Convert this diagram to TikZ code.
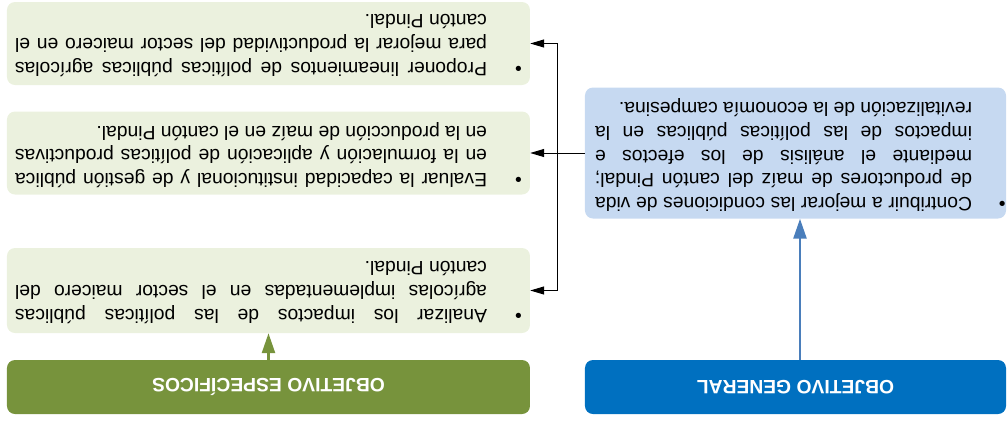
\documentclass[tikz,border=0pt]{standalone}
\usepackage{fontspec}
\setmainfont{Liberation Sans}
\usetikzlibrary{arrows.meta}
\definecolor{lgreen}{HTML}{EBF1DE}
\definecolor{dgreen}{HTML}{77933C}
\definecolor{dblue}{HTML}{0070C0}
\definecolor{lblue}{HTML}{C6D9F1}
\definecolor{ablue}{HTML}{4A7EBB}
% #1 box width, #2 text indent, #3 right margin, #4 bullet offset, #5 text
\newcommand{\bultext}[5]{\parbox{#1}{\tolerance=10000\hbadness=10000\leftskip=#2\relax\rightskip=#3\relax\parfillskip=0pt plus 1fil\relax\noindent\llap{\makebox[#2][l]{\hspace*{#4}\textbullet}}#5\par\vspace*{4pt}}}
\tikzset{
  txtbox/.style={rounded corners=8pt, inner sep=0pt,
    font=\fontsize{19.3}{23.7}\selectfont},
  titlebox/.style={rounded corners=8pt, inner sep=0pt, minimum width=#1, minimum height=54pt,
    text=white, font=\bfseries\fontsize{19.3}{23.5}\selectfont},
  blk/.style={draw=black, line width=1pt, -{Triangle[length=14pt,width=8pt]}},
}
\begin{document}
\begin{tikzpicture}[x=1pt, y=1pt, rotate=180, transform shape]
\useasboundingbox (0,0) rectangle (1008,421);
% general objective (upright left column)
\node[titlebox=421pt, fill=dblue] (genT) at (212.5,387) {OBJETIVO GENERAL};
\node[txtbox, fill=lblue, minimum height=131pt] (genD) at (212.5,153)
  {\bultext{421pt}{34pt}{10pt}{0.5pt}{Contribuir a mejorar las condiciones de vida\linebreak de productores de maíz del cantón Pindal;\linebreak mediante el análisis de los efectos e\linebreak impactos de las políticas públicas en la\linebreak revitalización de la economía campesina.}};
% specific objectives (upright right column)
\node[titlebox=523pt, fill=dgreen] (espT) at (739.5,387) {OBJETIVO ESPECÍFICOS};
\node[txtbox, fill=lgreen, minimum height=85pt] (C) at (739.5,290.5)
  {\bultext{523pt}{43pt}{8pt}{8pt}{Analizar los impactos de las políticas públicas\linebreak agrícolas implementadas en el sector maicero del\linebreak cantón Pindal.}};
\node[txtbox, fill=lgreen, minimum height=83pt] (B) at (739.5,153)
  {\bultext{523pt}{43pt}{8pt}{8pt}{Evaluar la capacidad institucional y de gestión pública\linebreak en la formulación y aplicación de políticas productivas\linebreak en la producción de maíz en el cantón Pindal.}};
\node[txtbox, fill=lgreen, minimum height=83pt] (A) at (739.5,43.5)
  {\bultext{523pt}{43pt}{8pt}{8pt}{Proponer lineamientos de políticas públicas agrícolas\linebreak para mejorar la productividad del sector maicero en el\linebreak cantón Pindal.}};
% connectors
\coordinate (ba) at (208,0);
\draw[ablue, line width=2.5pt, -{Triangle[length=20pt,width=13pt]}] (genT.south -| ba) -- (genD.north -| ba);
\draw[dgreen, line width=2.5pt, -{Triangle[length=20pt,width=13pt]}] (espT.south) -- (C.north);
\coordinate (j) at (450,153);
\draw[line width=1pt] (genD.east) -- (j);
\draw[blk] (j) |- (A.west);
\draw[blk] (j) |- (B.west);
\draw[blk] (j) |- (C.west);
\end{tikzpicture}
\end{document}
